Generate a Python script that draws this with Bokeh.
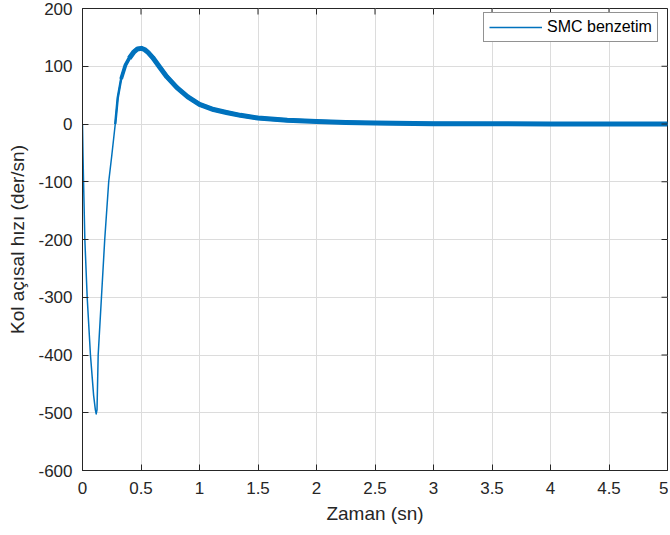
import math
from bokeh.plotting import figure
from bokeh.models import Range1d, FixedTicker, Legend, LegendItem, ColumnDataSource
from bokeh.embed import file_html
from bokeh.resources import INLINE

# ---- data ----
time_s = [0, 0.004, 0.009, 0.020, 0.040, 0.068, 0.095, 0.110, 0.117, 0.124, 0.134,
          0.162, 0.190, 0.224, 0.250, 0.280, 0.301, 0.330, 0.367, 0.400, 0.440,
          0.470, 0.503, 0.530, 0.560, 0.600, 0.665, 0.720, 0.807, 0.900, 1.000,
          1.120, 1.230, 1.350, 1.500, 1.750, 2.000, 2.250, 2.500, 3.000, 3.500,
          4.000, 4.500, 5.000]
velocity = [0, -50, -100, -200, -300, -400, -470, -495, -502, -495, -400,
            -300, -200, -100, -55, 0, 45, 78, 102, 114, 125,
            130, 131, 129, 124, 115, 97, 82, 63, 47, 34,
            25, 20, 15, 10.3, 6.5, 4.5, 2.8, 1.6, 0.6, 0.3,
            0.15, 0.05, 0.0]
# index where the chattering band becomes visible, widens further, is full
chatter_steps = [15, 17, 19]
chatter_widths = [2.5, 3.8, 5.0]

x_ticks = [0, 0.5, 1, 1.5, 2, 2.5, 3, 3.5, 4, 4.5, 5]
x_tick_labels = ["0", "0.5", "1", "1.5", "2", "2.5", "3", "3.5", "4", "4.5", "5"]
y_ticks = [-600, -500, -400, -300, -200, -100, 0, 100, 200]
y_tick_labels = ["-600", "-500", "-400", "-300", "-200", "-100", "0", "100", "200"]

series_label = "SMC benzetim"
x_title = "Zaman (sn)"
y_title = "Kol açısal hızı (der/sn)"

FONT = "Liberation Sans"
TXT = "#262626"
BLUE = "#0072BD"
X0, X1 = 0, 5
Y0, Y1 = -600, 200

p = figure(width=668, height=530, output_backend="svg", toolbar_location=None,
           x_range=Range1d(X0, X1), y_range=Range1d(Y0, Y1),
           min_border_left=82, min_border_right=1, min_border_top=8,
           min_border_bottom=60, x_axis_label=x_title, y_axis_label=y_title)
p.background_fill_color = "white"
p.outline_line_color = TXT
p.outline_line_width = 1

src_all = ColumnDataSource(dict(t=time_s, v=velocity))
r_thin = p.line("t", "v", source=src_all, line_color=BLUE, line_width=1.5, line_join="round")
for start, w in zip(chatter_steps, chatter_widths):
    src = ColumnDataSource(dict(t=time_s[start:], v=velocity[start:]))
    p.line("t", "v", source=src, line_color=BLUE, line_width=w, line_join="round", line_cap="butt")

# inner tick marks on the top and right edges of the box (MATLAB style)
p.ray(x=x_ticks, y=[Y1] * len(x_ticks), length=6, length_units="screen",
      angle=-math.pi / 2, line_color=TXT, line_width=1)
p.ray(x=[X1] * len(y_ticks), y=y_ticks, length=6, length_units="screen",
      angle=math.pi, line_color=TXT, line_width=1)

for ax in p.xaxis:
    ax.ticker = FixedTicker(ticks=x_ticks)
    ax.major_label_overrides = {t: l for t, l in zip(x_ticks, x_tick_labels)}
    ax.major_label_standoff = 11
    ax.axis_label_standoff = 6
for ax in p.yaxis:
    ax.ticker = FixedTicker(ticks=y_ticks)
    ax.major_label_overrides = {t: l for t, l in zip(y_ticks, y_tick_labels)}
    ax.major_label_standoff = 10
    ax.axis_label_standoff = 7

for ax in p.xaxis + p.yaxis:
    ax.major_tick_in = 6
    ax.major_tick_out = 0
    ax.minor_tick_in = 0
    ax.minor_tick_out = 0
    ax.axis_line_color = TXT
    ax.major_tick_line_color = TXT
    ax.major_label_text_font = FONT
    ax.major_label_text_font_size = "17px"
    ax.major_label_text_color = TXT
    ax.axis_label_text_font = FONT
    ax.axis_label_text_font_size = "19px"
    ax.axis_label_text_font_style = "normal"
    ax.axis_label_text_color = TXT

p.xgrid.ticker = FixedTicker(ticks=x_ticks)
p.ygrid.ticker = FixedTicker(ticks=y_ticks)
p.grid.grid_line_color = "#dcdcdc"
p.grid.grid_line_width = 1

legend = Legend(items=[LegendItem(label=series_label, renderers=[r_thin])],
                location=(401, 428), margin=0, padding=5, spacing=0,
                glyph_width=53, glyph_height=16, label_height=16, label_standoff=5,
                label_text_font=FONT, label_text_font_size="16px", label_text_color="#000000",
                border_line_color=TXT, border_line_width=1,
                background_fill_color="white", background_fill_alpha=1)
p.add_layout(legend, "center")

open("out.html", "w").write(file_html(p, INLINE))
